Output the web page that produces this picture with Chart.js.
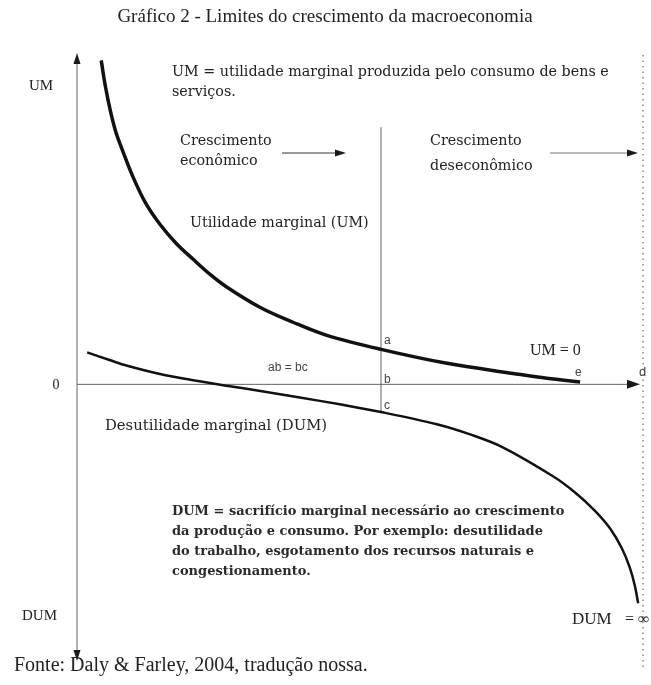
<!DOCTYPE html>
<html>
<head>
<meta charset="utf-8">
<script src="https://cdn.jsdelivr.net/npm/chart.js@4.4.0/dist/chart.umd.min.js"></script>
<style>
  html, body { margin: 0; padding: 0; background: #fff; }
  #wrap { width: 651px; height: 685px; position: relative; }
</style>
</head>
<body>
<div id="wrap"><canvas id="chart"></canvas></div>
<script>
// ============================================================
// DATA (x: 0 = origin, 100 = point d)
// ============================================================
const umX  = [4.3, 5.0, 5.9, 6.9, 8.2, 9.8, 12.1, 14.7, 17.6, 20.6, 23.6, 26.6, 32.5, 38.3, 44.3, 53.9, 65.6, 77.3, 83.3, 89.2];
const umY  = [118.4, 109.3, 100.1, 92.1, 84.8, 76.4, 66.5, 58.5, 51.5, 45.7, 40.2, 35.5, 28.1, 22.7, 17.9, 12.8, 7.7, 4.0, 2.2, 0.9];
const dumX = [1.8, 5.9, 8.9, 14.7, 20.6, 27.1, 32.5, 39.5, 46.6, 53.9, 63.8, 69.7, 75.5, 84.4, 88.3, 91.8, 94.5, 96.6, 98.0, 98.9, 99.5];
const dumY = [11.7, 8.8, 6.8, 3.8, 1.5, -0.7, -2.4, -4.8, -7.3, -10.1, -14.6, -18.3, -23.0, -33.6, -39.5, -46.1, -52.6, -59.9, -66.9, -73.5, -80.0];

const optimumX = 53.9;   // vertical line a-b-c
const optimumTop = 94;
const limitX = 100;      // d (dotted line)

const pts = (xs, ys) => xs.map((x, i) => ({ x, y: ys[i] }));

const SERIF = '"Liberation Serif", "Times New Roman", serif';
const WIDE  = '"DejaVu Serif", serif';
const SANS  = '"Liberation Sans", Arial, sans-serif';

function arrowHead(ctx, x, y, dir, len, half) {
  ctx.save();
  ctx.translate(x, y);
  ctx.rotate(dir);
  ctx.beginPath();
  ctx.moveTo(0, 0);
  ctx.lineTo(-len, -half);
  ctx.lineTo(-len, half);
  ctx.closePath();
  ctx.fill();
  ctx.restore();
}

function txt(ctx, s, x, y, font, color, align) {
  ctx.font = font;
  ctx.fillStyle = color || '#222';
  ctx.textAlign = align || 'left';
  ctx.textBaseline = 'middle';
  ctx.fillText(s, x, y);
}

// axes, guide lines and all the labels
const diagram = {
  id: 'diagram',
  beforeDatasetsDraw(chart) {
    const { ctx, scales: { x, y } } = chart;
    const x0 = x.getPixelForValue(0), y0 = y.getPixelForValue(0);
    const xd = x.getPixelForValue(limitX);
    ctx.save();
    ctx.strokeStyle = '#666';
    ctx.fillStyle = '#1a1a1a';
    ctx.lineWidth = 1;
    // y axis with both arrows
    ctx.beginPath();
    ctx.moveTo(x0, 58); ctx.lineTo(x0, 656);
    ctx.stroke();
    arrowHead(ctx, x0, 53, -Math.PI / 2, 11, 3.5);
    arrowHead(ctx, x0, 661, Math.PI / 2, 11, 3.5);
    // x axis
    ctx.beginPath();
    ctx.moveTo(x0, y0); ctx.lineTo(xd - 6, y0);
    ctx.stroke();
    arrowHead(ctx, xd - 1, y0, 0, 13, 4.5);
    // vertical at optimum
    const xo = x.getPixelForValue(optimumX);
    ctx.beginPath();
    ctx.moveTo(xo, y.getPixelForValue(optimumTop));
    ctx.lineTo(xo, y.getPixelForValue(-10.6));
    ctx.stroke();
    // dotted line at d
    ctx.save();
    ctx.strokeStyle = '#888';
    ctx.lineWidth = 1.5;
    ctx.setLineDash([1.5, 4]);
    ctx.beginPath();
    ctx.moveTo(xd + 2, 55); ctx.lineTo(xd + 2, 668);
    ctx.stroke();
    ctx.restore();
    // growth arrows
    ctx.strokeStyle = '#333';
    ctx.beginPath(); ctx.moveTo(282, 153); ctx.lineTo(340, 153); ctx.stroke();
    arrowHead(ctx, 346, 153, 0, 11, 3.5);
    ctx.strokeStyle = '#777';
    ctx.beginPath(); ctx.moveTo(550, 153); ctx.lineTo(630, 153); ctx.stroke();
    arrowHead(ctx, 638, 153, 0, 11, 3.5);
    ctx.restore();
  },
  afterDraw(chart) {
    const { ctx } = chart;
    ctx.save();
    txt(ctx, 'Gráfico 2 - Limites do crescimento da macroeconomia', 325, 17, '19px ' + SERIF, '#222', 'center');
    txt(ctx, 'UM', 29, 86, '15px ' + SERIF);
    txt(ctx, '0', 56, 385, '14px ' + SERIF, '#222', 'center');
    txt(ctx, 'DUM', 22, 616, '15px ' + SERIF);

    const f = '14.3px ' + WIDE;
    txt(ctx, 'UM = utilidade marginal produzida pelo consumo de bens e', 172, 72, f);
    txt(ctx, 'serviços.', 172, 92, f);
    txt(ctx, 'Crescimento', 180, 141, f);
    txt(ctx, 'econômico', 180, 161, f);
    txt(ctx, 'Crescimento', 430, 141, f);
    txt(ctx, 'deseconômico', 430, 166, f);
    txt(ctx, 'Utilidade marginal (UM)', 190, 223, f);

    txt(ctx, 'a', 384, 341, '12px ' + SANS, '#444');
    txt(ctx, 'b', 384, 380, '12px ' + SANS, '#444');
    txt(ctx, 'c', 384, 406, '12px ' + SANS, '#444');
    txt(ctx, 'ab = bc', 268, 368, '12px ' + SANS, '#444');
    txt(ctx, 'UM = 0', 530, 351, '16px ' + SERIF);
    txt(ctx, 'e', 575, 373, '12px ' + SANS, '#444');
    txt(ctx, 'd', 639, 372, '13px ' + SANS, '#444');

    txt(ctx, 'Desutilidade marginal (DUM)', 105, 426, '14.8px ' + WIDE);
    const dumNote = [
      'DUM = sacrifício marginal necessário ao crescimento',
      'da produção e consumo. Por exemplo: desutilidade',
      'do trabalho, esgotamento dos recursos naturais e',
      'congestionamento.'
    ];
    dumNote.forEach((s, i) => txt(ctx, s, 172, 512 + i * 20, 'bold 13px ' + WIDE, '#2a2a2a'));
    txt(ctx, 'DUM', 572, 620, '17px ' + SERIF);
    txt(ctx, '= ∞', 625, 620, '16px ' + SERIF);

    txt(ctx, 'Fonte: Daly & Farley, 2004, tradução nossa.', 14, 666, '20px ' + SERIF);
    ctx.restore();
  }
};

new Chart(document.getElementById('chart'), {
  type: 'scatter',
  data: {
    datasets: [
      { label: 'UM', data: pts(umX, umY), showLine: true, borderColor: '#111', borderWidth: 3.5,
        pointRadius: 0, tension: 0.35, fill: false },
      { label: 'DUM', data: pts(dumX, dumY), showLine: true, borderColor: '#111', borderWidth: 2.5,
        pointRadius: 0, tension: 0.35, fill: false }
    ]
  },
  options: {
    responsive: true, maintainAspectRatio: false, animation: false,
    layout: { padding: { left: 77, right: 10, top: 56, bottom: 27 } },
    plugins: { legend: { display: false }, tooltip: { enabled: false } },
    scales: {
      x: { type: 'linear', min: 0, max: 100, display: false },
      y: { type: 'linear', min: -100, max: 120, display: false }
    }
  },
  plugins: [diagram]
});
</script>
</body>
</html>
